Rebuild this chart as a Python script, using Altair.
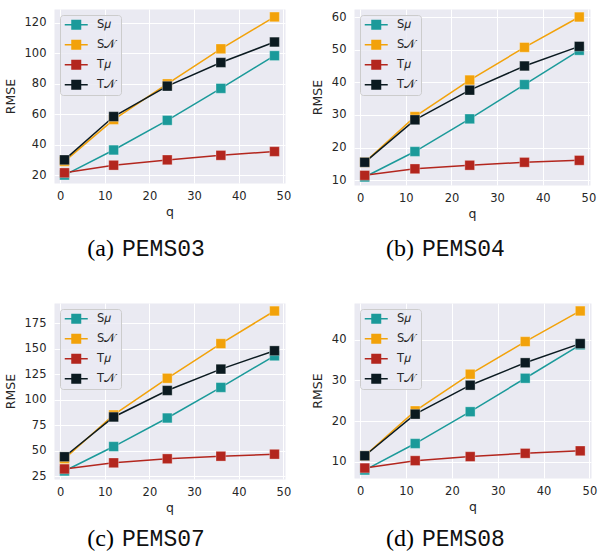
import altair as alt
import pandas as pd

q = [1, 12, 24, 36, 48]
series = ["S𝜇", "S𝒩", "T𝜇", "T𝒩"]
colors = ["#1b9a9a", "#f2a20a", "#b3261e", "#0b1a20"]

pems03_s_mu = [20, 36.5, 56, 77, 98.5]
pems03_s_n = [29, 56.5, 80, 103, 124]
pems03_t_mu = [21.5, 26.5, 30, 33, 35.5]
pems03_t_n = [30, 58.5, 78.5, 94, 107.5]

pems04_s_mu = [11, 18.8, 28.8, 39.3, 49.8]
pems04_s_n = [15.5, 29.5, 40.7, 50.7, 60]
pems04_t_mu = [11.5, 13.5, 14.6, 15.5, 16.1]
pems04_t_n = [15.5, 28.5, 37.6, 45, 51]

pems07_s_mu = [30, 54, 82, 112, 143]
pems07_s_n = [42, 85, 121, 155, 187]
pems07_t_mu = [32, 38, 42, 44.5, 46.5]
pems07_t_n = [44, 83, 109, 130, 148]

pems08_s_mu = [8, 14.5, 22.3, 30.5, 38.7]
pems08_s_n = [11.5, 22.5, 31.5, 39.5, 47]
pems08_t_mu = [8.5, 10.3, 11.3, 12.1, 12.7]
pems08_t_n = [11.5, 21.7, 28.8, 34.3, 39]

x_ticks = [0, 10, 20, 30, 40, 50]
ticks03 = [20, 40, 60, 80, 100, 120]
ticks04 = [10, 20, 30, 40, 50, 60]
ticks07 = [25, 50, 75, 100, 125, 150, 175]
ticks08 = [10, 20, 30, 40]

# line (1.5px) plus 10px square, in legend-symbol units (1 unit = 5px at size 100)
LEG_PATH = ("M-2.3,-0.15L2.3,-0.15L2.3,0.15L-2.3,0.15Z"
            "M-1,-1L1,-1L1,1L-1,1Z")


def panel(letter, name, vals, yticks, w, h, cap_dy):
    rows = []
    for s, v in zip(series, vals):
        for qq, r in zip(q, v):
            rows.append({"q": qq, "RMSE": r, "series": s})
    df = pd.DataFrame(rows)
    allv = [x for v in vals for x in v]
    lo, hi = min(allv), max(allv)
    pad = 0.05 * (hi - lo)
    base = alt.Chart(df).encode(
        x=alt.X("q:Q", scale=alt.Scale(domain=[-1.35, 50.35], nice=False, zero=False),
                axis=alt.Axis(values=x_ticks, title="q")),
        y=alt.Y("RMSE:Q", scale=alt.Scale(domain=[lo - pad, hi + pad], nice=False, zero=False),
                axis=alt.Axis(values=yticks, title="RMSE")),
        color=alt.Color("series:N", scale=alt.Scale(domain=series, range=colors),
                        legend=alt.Legend(
                            title=None, orient="top-left", offset=6,
                            symbolType=LEG_PATH, symbolSize=100, symbolStrokeWidth=0,
                            symbolOpacity=1,
                            symbolOffset=6.5, labelOffset=15, rowPadding=7,
                            padding=4, labelFont="DejaVu Sans", labelFontSize=11.5,
                            labelColor="#262626",
                            fillColor="rgba(234,234,242,0.8)", strokeColor="#cccccc",
                            cornerRadius=3,
                        )),
    )
    lines = base.mark_line(strokeWidth=1.5)
    pts = base.mark_point(shape="square", filled=True, size=95, opacity=1,
                          stroke="white", strokeWidth=0.6, strokeOpacity=0.5)
    one = alt.Data(values=[{}])
    cap1 = alt.Chart(one).mark_text(text=letter, font="Liberation Serif", fontSize=24,
                                    align="right", baseline="alphabetic",
                                    color="black").encode(
        x=alt.value(60), y=alt.value(h + cap_dy))
    cap2 = alt.Chart(one).mark_text(text=name, font="Liberation Mono", fontSize=23,
                                    align="left", baseline="alphabetic",
                                    color="#111111").encode(
        x=alt.value(68), y=alt.value(h + cap_dy))
    return alt.layer(lines, pts, cap1, cap2).properties(width=w, height=h)


pa = panel("(a)", "PEMS03", [pems03_s_mu, pems03_s_n, pems03_t_mu, pems03_t_n], ticks03, 231, 174, 73)
pb = panel("(b)", "PEMS04", [pems04_s_mu, pems04_s_n, pems04_t_mu, pems04_t_n], ticks04, 236, 176, 71)
pc = panel("(c)", "PEMS07", [pems07_s_mu, pems07_s_n, pems07_t_mu, pems07_t_n], ticks07, 231, 176, 67)
pd_ = panel("(d)", "PEMS08", [pems08_s_mu, pems08_s_n, pems08_t_mu, pems08_t_n], ticks08, 237, 175, 68)

row1 = alt.hconcat(pa, pb, spacing=18).resolve_scale(color="independent").resolve_legend(color="independent")
row2 = alt.hconcat(pc, pd_, spacing=18).resolve_scale(color="independent").resolve_legend(color="independent")

chart = alt.vconcat(row1, row2, spacing=40).resolve_scale(
    color="independent").resolve_legend(color="independent").properties(
    padding={"left": 3, "top": 8, "right": 0, "bottom": 0},
    background="white",
).configure_view(
    fill="#eaeaf2", stroke="transparent"
).configure_axis(
    domain=False, ticks=False, tickSize=0,
    grid=True, gridColor="white", gridWidth=1, gridOpacity=1,
    labelFont="DejaVu Sans", labelFontSize=11.5, labelColor="#262626",
    titleFont="DejaVu Sans", titleFontSize=12.5, titleFontWeight="normal", titleColor="#262626",
).configure_axisX(
    labelPadding=7, titlePadding=4
).configure_axisY(
    labelPadding=8, titlePadding=7
)

chart.save("out.html", embed_options={"renderer": "svg", "actions": False})
